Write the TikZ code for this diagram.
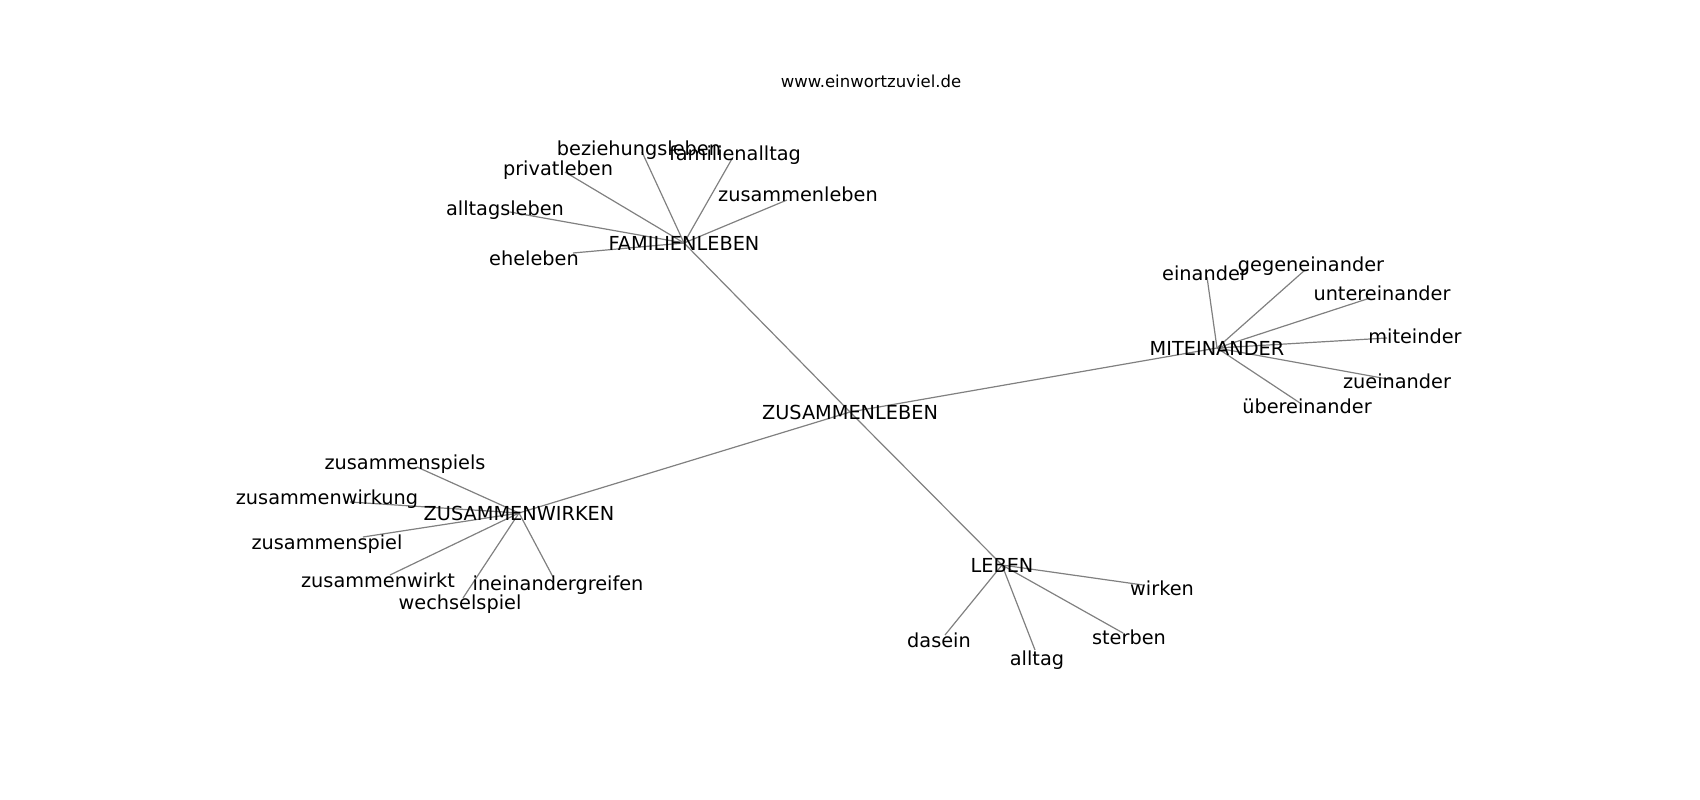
\documentclass[tikz,border=0pt]{standalone}
\usepackage{fontspec}
\setmainfont{DejaVu Sans}
\usetikzlibrary{backgrounds}
\tikzset{
    word/.style={font=\fontsize{19.3}{19.3}\selectfont, inner sep=0pt, text height=14pt, text depth=0pt},
    title/.style={font=\fontsize{16.5}{16.5}\selectfont, inner sep=0pt, text height=12pt, text depth=0pt},
    link/.style={draw=black!50, line width=1.2pt}
}
\begin{document}
\begin{tikzpicture}[x=1pt,y=-1pt]
    \useasboundingbox (0,0) rectangle (1700,800);
    \node[title] (site) at (871,82) {www.einwortzuviel.de};
    % main words
    \node[word] (zl) at (850,412) {ZUSAMMENLEBEN};
    \node[word] (fam) at (684,243) {FAMILIENLEBEN};
    \node[word] (mit) at (1217,348) {MITEINANDER};
    \node[word] (zw) at (519,513) {ZUSAMMENWIRKEN};
    \node[word] (leb) at (1002,565) {LEBEN};
    % around FAMILIENLEBEN
    \node[word] (bez) at (639,148) {beziehungsleben};
    \node[word] (falt) at (735,153) {familienalltag};
    \node[word] (priv) at (558,168) {privatleben};
    \node[word] (zusl) at (798,194) {zusammenleben};
    \node[word] (allt) at (505,208) {alltagsleben};
    \node[word] (ehe) at (534,258) {eheleben};
    \coordinate (bez-e) at (642,152);
    \coordinate (falt-e) at (733,157);
    \coordinate (priv-e) at (565,172);
    \coordinate (zusl-e) at (787,200);
    \coordinate (allt-e) at (510,212);
    \coordinate (ehe-e) at (573,253);
    % around MITEINANDER
    \node[word] (ein) at (1205,273) {einander};
    \node[word] (geg) at (1311,264) {gegeneinander};
    \node[word] (unt) at (1382,293) {untereinander};
    \node[word] (mtd) at (1415,336) {miteinder};
    \node[word] (zue) at (1397,381) {zueinander};
    \node[word] (ueb) at (1307,406) {übereinander};
    \coordinate (ein-e) at (1207,277);
    \coordinate (geg-e) at (1305,270);
    \coordinate (unt-e) at (1370,298);
    \coordinate (mtd-e) at (1387,338);
    \coordinate (zue-e) at (1393,380);
    \coordinate (ueb-e) at (1300,403);
    % around ZUSAMMENWIRKEN
    \node[word] (zsps) at (405,462) {zusammenspiels};
    \node[word] (zwg) at (327,497) {zusammenwirkung};
    \node[word] (zsp) at (327,542) {zusammenspiel};
    \node[word] (zwt) at (378,580) {zusammenwirkt};
    \node[word] (ine) at (558,583) {ineinandergreifen};
    \node[word] (wec) at (460,602) {wechselspiel};
    \coordinate (zsps-e) at (417,467);
    \coordinate (zwg-e) at (350,502);
    \coordinate (zsp-e) at (363,537);
    \coordinate (zwt-e) at (390,575);
    \coordinate (ine-e) at (553,577);
    \coordinate (wec-e) at (463,598);
    % around LEBEN
    \node[word] (wir) at (1162,588) {wirken};
    \node[word] (das) at (939,640) {dasein};
    \node[word] (alt) at (1037,658) {alltag};
    \node[word] (ste) at (1129,637) {sterben};
    \coordinate (wir-e) at (1143,585);
    \coordinate (das-e) at (945,635);
    \coordinate (alt-e) at (1035,650);
    \coordinate (ste-e) at (1123,633);
    % edges, under the words
    \begin{scope}[on background layer]
        \draw[link] (zl.center) -- (fam.center);
        \draw[link] (zl.center) -- (mit.center);
        \draw[link] (zl.center) -- (zw.center);
        \draw[link] (zl.center) -- (leb.center);
        \draw[link] (fam.center) -- (bez-e);
        \draw[link] (fam.center) -- (falt-e);
        \draw[link] (fam.center) -- (priv-e);
        \draw[link] (fam.center) -- (zusl-e);
        \draw[link] (fam.center) -- (allt-e);
        \draw[link] (fam.center) -- (ehe-e);
        \draw[link] (mit.center) -- (ein-e);
        \draw[link] (mit.center) -- (geg-e);
        \draw[link] (mit.center) -- (unt-e);
        \draw[link] (mit.center) -- (mtd-e);
        \draw[link] (mit.center) -- (zue-e);
        \draw[link] (mit.center) -- (ueb-e);
        \draw[link] (zw.center) -- (zsps-e);
        \draw[link] (zw.center) -- (zwg-e);
        \draw[link] (zw.center) -- (zsp-e);
        \draw[link] (zw.center) -- (zwt-e);
        \draw[link] (zw.center) -- (ine-e);
        \draw[link] (zw.center) -- (wec-e);
        \draw[link] (leb.center) -- (wir-e);
        \draw[link] (leb.center) -- (das-e);
        \draw[link] (leb.center) -- (alt-e);
        \draw[link] (leb.center) -- (ste-e);
    \end{scope}
\end{tikzpicture}
\end{document}
